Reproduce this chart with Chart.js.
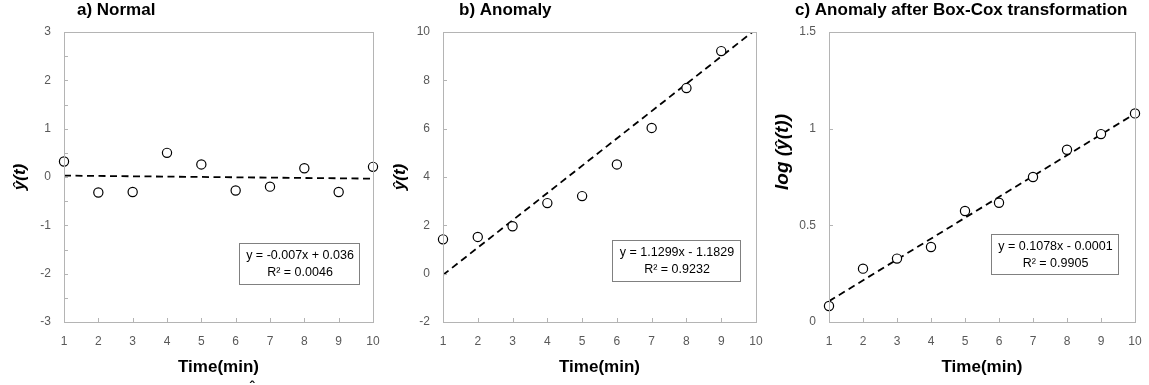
<!DOCTYPE html>
<html>
<head>
<meta charset="utf-8">
<script src="https://cdn.jsdelivr.net/npm/chart.js@4.4.1/dist/chart.umd.min.js"></script>
<style>
html,body{margin:0;padding:0;background:#fff;}
#wrap{position:relative;width:1149px;height:385px;overflow:hidden;}
canvas{position:absolute;left:0;top:0;}
</style>
</head>
<body>
<div id="wrap">
<canvas id="c0" width="1149" height="385"></canvas>
<canvas id="c1" width="1149" height="385"></canvas>
<canvas id="c2" width="1149" height="385"></canvas>
</div>
<script>
// ---- data ----
const timeMin = [1, 2, 3, 4, 5, 6, 7, 8, 9, 10];
const normalValues = [0.32, -0.32, -0.31, 0.50, 0.26, -0.28, -0.20, 0.18, -0.31, 0.21];
const anomalyValues = [1.42, 1.52, 1.96, 2.92, 3.21, 4.52, 6.03, 7.68, 9.21];
const boxcoxValues = [0.083, 0.276, 0.328, 0.388, 0.574, 0.617, 0.750, 0.891, 0.972, 1.079];
const trendSlopes = [-0.007, 1.1299, 0.1078];
const trendIntercepts = [0.036, -1.1829, -0.0001];
const panelTitles = ["a) Normal", "b) Anomaly", "c) Anomaly after Box-Cox transformation"];
const yTitles = ["\u0177(t)", "\u0177(t)", "log (\u0177(t))"];
const xTitle = "Time(min)";
const equationLines = [
  ["y = -0.007x + 0.036", "R\u00B2 = 0.0046"],
  ["y = 1.1299x - 1.1829", "R\u00B2 = 0.9232"],
  ["y = 0.1078x - 0.0001", "R\u00B2 = 0.9905"]
];
const yMins = [-3, -2, 0];
const yMaxs = [3, 10, 1.5];
const ySteps = [1, 2, 0.5];
const yMinorSteps = [0.5, 2, 0.5];
const xTickLabels = ["1","2","3","4","5","6","7","8","9","10"];

// ---- layout (pixels) ----
const panels = [
  {left: 64, right: 373, titleX: 77, yTitleX: 20, yTitleY: 177, yTitleSize: 17, box: [239, 243, 120, 41]},
  {left: 443, right: 756, titleX: 459, yTitleX: 400, yTitleY: 177, yTitleSize: 17, box: [612, 240, 128, 41]},
  {left: 829, right: 1135, titleX: 795, yTitleX: 783, yTitleY: 152, yTitleSize: 19, box: [991, 234, 127, 40]}
];
const TOP = 32, BOTTOM = 322, YAXW = 40, XAXH = 40;

const seriesList = [normalValues, anomalyValues, boxcoxValues];

function makeChart(i) {
  const p = panels[i];
  const vals = seriesList[i];
  const pts = vals.map((v, k) => ({x: timeMin[k], y: v}));
  const x0 = timeMin[0], x1 = timeMin[timeMin.length - 1];
  const trend = [x0, x1].map(x => ({x: x, y: trendSlopes[i] * x + trendIntercepts[i]}));

  const deco = {
    id: 'deco' + i,
    afterDraw(chart) {
      const ctx = chart.ctx;
      const a = chart.chartArea;
      const xs = chart.scales.x, ys = chart.scales.y;
      ctx.save();
      // plot frame
      ctx.strokeStyle = '#b4b4b4';
      ctx.lineWidth = 1;
      ctx.strokeRect(Math.round(a.left) + 0.5, Math.round(a.top) + 0.5, Math.round(a.right - a.left), Math.round(a.bottom - a.top));
      // inward ticks
      ctx.beginPath();
      for (const t of timeMin) {
        const px = Math.round(xs.getPixelForValue(t)) + 0.5;
        ctx.moveTo(px, a.bottom); ctx.lineTo(px, a.bottom - 4);
      }
      const n = Math.round((yMaxs[i] - yMins[i]) / yMinorSteps[i]);
      for (let k = 0; k <= n; k++) {
        const v = yMins[i] + k * yMinorSteps[i];
        const py = Math.round(ys.getPixelForValue(v)) + 0.5;
        ctx.moveTo(a.left, py); ctx.lineTo(a.left + 4, py);
      }
      ctx.stroke();
      // panel title
      ctx.fillStyle = '#000';
      ctx.font = 'bold 17px "Liberation Sans", Arial, sans-serif';
      ctx.textAlign = 'left';
      ctx.textBaseline = 'alphabetic';
      ctx.fillText(panelTitles[i], p.titleX, 15);
      // x title
      ctx.textAlign = 'center';
      ctx.textBaseline = 'middle';
      ctx.fillText(xTitle, (a.left + a.right) / 2, 367);
      // y title
      ctx.save();
      ctx.translate(p.yTitleX, p.yTitleY);
      ctx.rotate(-Math.PI / 2);
      ctx.font = 'italic bold ' + p.yTitleSize + 'px "Liberation Sans", Arial, sans-serif';
      ctx.fillText(yTitles[i], 0, 0);
      ctx.restore();
      // equation box
      const b = p.box;
      ctx.fillStyle = '#fff';
      ctx.fillRect(b[0], b[1], b[2], b[3]);
      ctx.strokeStyle = '#808080';
      ctx.strokeRect(b[0] + 0.5, b[1] + 0.5, b[2], b[3]);
      ctx.fillStyle = '#000';
      ctx.font = '12.5px "Liberation Sans", Arial, sans-serif';
      ctx.textAlign = 'center';
      ctx.fillText(equationLines[i][0], b[0] + b[2] / 2 + 1, b[1] + 13);
      ctx.fillText(equationLines[i][1], b[0] + b[2] / 2 + 1, b[1] + 30);
      if (i === 0) {
        ctx.font = 'bold 14px "Liberation Sans", Arial, sans-serif';
        ctx.fillText('\u02C6', 252, 388);
      }
      ctx.restore();
    }
  };

  return new Chart(document.getElementById('c' + i), {
    type: 'scatter',
    data: {
      datasets: [
        {
          type: 'line',
          data: trend,
          borderColor: '#000',
          borderWidth: 1.8,
          borderDash: [7, 4.5],
          pointRadius: 0,
          fill: false,
          tension: 0,
          order: 2
        },
        {
          data: pts,
          pointRadius: 4.6,
          pointBackgroundColor: '#fff',
          pointBorderColor: '#000',
          pointBorderWidth: 1.2,
          clip: false,
          order: 1
        }
      ]
    },
    options: {
      responsive: false,
      animation: false,
      devicePixelRatio: 1,
      events: [],
      layout: {padding: {left: p.left - YAXW, right: 1149 - p.right, top: TOP, bottom: 385 - BOTTOM - XAXH}},
      plugins: {legend: {display: false}, tooltip: {enabled: false}, title: {display: false}},
      scales: {
        x: {
          type: 'linear',
          min: 1, max: 10,
          grid: {display: false},
          border: {display: false},
          afterFit(s) { s.height = XAXH; },
          afterBuildTicks(s) { s.ticks = timeMin.map(v => ({value: v})); },
          ticks: {
            color: '#595959',
            font: {family: '"Liberation Sans", Arial, sans-serif', size: 12},
            padding: 4,
            maxRotation: 0,
            autoSkip: false,
            callback: (v, idx) => xTickLabels[idx]
          }
        },
        y: {
          min: yMins[i], max: yMaxs[i],
          grid: {display: false},
          border: {display: false},
          afterFit(s) { s.width = YAXW; },
          ticks: {
            stepSize: ySteps[i],
            color: '#595959',
            font: {family: '"Liberation Sans", Arial, sans-serif', size: 12},
            padding: 5,
            callback: v => String(Number(v.toFixed(2)))
          }
        }
      }
    },
    plugins: [deco]
  });
}
[0, 1, 2].forEach(makeChart);
</script>
</body>
</html>
